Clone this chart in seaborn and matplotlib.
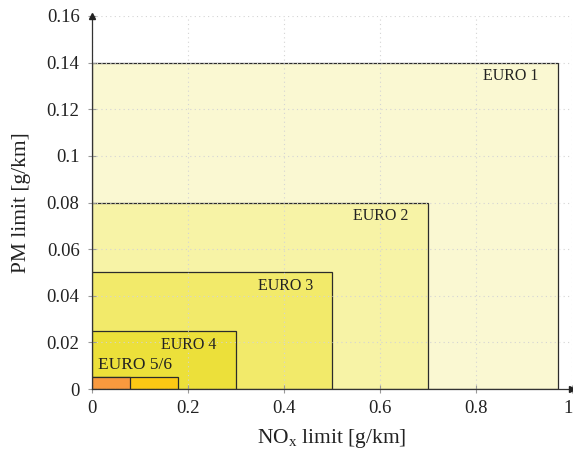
import matplotlib
matplotlib.use("Agg")
import matplotlib.pyplot as plt
import matplotlib.transforms as mtransforms
import seaborn as sns

# Euro emission standards (diesel passenger cars)
stages = ["EURO 1", "EURO 2", "EURO 3", "EURO 4", "EURO 5", "EURO 6"]
nox_limit = [0.97, 0.70, 0.50, 0.30, 0.18, 0.08]
pm_limit = [0.14, 0.08, 0.05, 0.025, 0.005, 0.005]
fill_colors = ["#FAF8D2", "#F7F3A6", "#F2EA6A", "#ECE03A", "#FCC814", "#F8993E"]
box_labels = ["EURO 1", "EURO 2", "EURO 3", "EURO 4", "EURO 5/6"]

x_ticks = [0, 0.2, 0.4, 0.6, 0.8, 1]
x_tick_labels = ["0", "0.2", "0.4", "0.6", "0.8", "1"]
y_ticks = [0, 0.02, 0.04, 0.06, 0.08, 0.1, 0.12, 0.14, 0.16]
y_tick_labels = ["0", "0.02", "0.04", "0.06", "0.08", "0.1", "0.12", "0.14", "0.16"]

sns.set_theme(style="white")
plt.rcParams["font.family"] = ["Liberation Serif", "DejaVu Serif"]
plt.rcParams["mathtext.fontset"] = "custom"
plt.rcParams["mathtext.rm"] = "Liberation Serif"
plt.rcParams["mathtext.it"] = "Liberation Serif:italic"

fig = plt.figure(figsize=(5.73, 4.53), dpi=100)
ax = fig.add_axes([92 / 573, 64 / 453, 480 / 573, 373 / 453])

# one box per standard, anchored at the origin
for nox, pm, col in zip(nox_limit, pm_limit, fill_colors):
    ax.bar(0, pm, width=nox, align="edge", color=col,
           edgecolor="#2b2b2b", linewidth=0.9, zorder=1)

# stage labels in the upper-right corner of each box
for i, lab in enumerate(box_labels):
    if lab == "EURO 5/6":
        ax.text(0.012, pm_limit[4] + 0.002, lab,
                ha="left", va="bottom", fontsize=12.5, color="#222222", zorder=4)
    else:
        ax.text(nox_limit[i] - 0.04, pm_limit[i] - 0.0025, lab,
                ha="right", va="top", fontsize=11.5, color="#222222", zorder=4)

ax.set_xlim(0, 1)
ax.set_ylim(0, 0.16)
ax.set_xticks(x_ticks)
ax.set_xticklabels(x_tick_labels)
ax.set_yticks(y_ticks)
ax.set_yticklabels(y_tick_labels)

ax.grid(True, color="#d4d4d4", linestyle=(0, (1, 3)), linewidth=0.8, zorder=3)
ax.set_axisbelow(False)
for line in ax.get_xgridlines() + ax.get_ygridlines():
    line.set_zorder(3)

sns.despine(ax=ax, top=True, right=True)
for side in ("left", "bottom"):
    ax.spines[side].set_color("#333333")
    ax.spines[side].set_linewidth(0.9)
    ax.spines[side].set_zorder(5)

ax.tick_params(axis="both", which="major", direction="inout", length=6,
               width=0.8, color="#999999", labelsize=13.5, labelcolor="#222222",
               left=True, bottom=True)
ax.tick_params(axis="x", pad=5)
ax.tick_params(axis="y", pad=6)

# keep the last x tick label inside the canvas
last = ax.get_xticklabels()[-1]
last.set_transform(last.get_transform() +
                   mtransforms.ScaledTranslation(-4 / 100, 0, fig.dpi_scale_trans))

# axis arrowheads
ax.plot(1, 0, marker=">", color="#222222", markersize=4,
        transform=ax.get_yaxis_transform(), clip_on=False, zorder=6)
ax.plot(0, 1, marker="^", color="#222222", markersize=4,
        transform=ax.get_xaxis_transform(), clip_on=False, zorder=6)

ax.set_xlabel(r"NO$_\mathrm{x}$ limit [g/km]", fontsize=15.5, color="#222222", labelpad=7)
ax.set_ylabel("PM limit [g/km]", fontsize=15.5, color="#222222", labelpad=11)

fig.savefig("out.png", dpi=100)
